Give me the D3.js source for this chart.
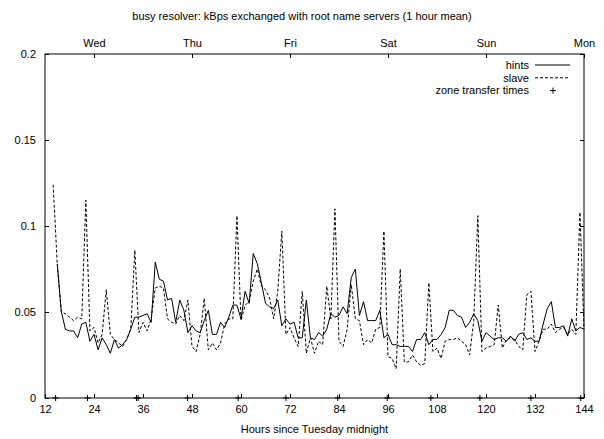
<!DOCTYPE html>
<html>
<head>
<meta charset="utf-8">
<script src="https://cdn.jsdelivr.net/npm/d3@7"></script>
<style>
  body { margin: 0; background: #fff; }
  svg { display: block; font-family: "Liberation Sans", Arial, sans-serif; }
</style>
</head>
<body>
<div id="chart"></div>
<script>
// chart data (hourly means, kBps)
const title = "busy resolver: kBps exchanged with root name servers (1 hour mean)";
const xLabel = "Hours since Tuesday midnight";
const hourTicks = [12, 24, 36, 48, 60, 72, 84, 96, 108, 120, 132, 144];
const dayHours = [24, 48, 72, 96, 120, 144];
const dayLabels = ["Wed", "Thu", "Fri", "Sat", "Sun", "Mon"];
const yTicks = [0, 0.05, 0.1, 0.15, 0.2];

const slaveStart = 14;
const slave = [
  0.124, 0.078, 0.050, 0.049, 0.047, 0.045, 0.047, 0.046, 0.115, 0.039,
  0.041, 0.032, 0.037, 0.063, 0.037, 0.034, 0.032, 0.030, 0.034, 0.040,
  0.086, 0.038, 0.044, 0.039, 0.046, 0.064, 0.065, 0.064, 0.046, 0.044,
  0.043, 0.048, 0.045, 0.057, 0.030, 0.027, 0.037, 0.058, 0.028, 0.032,
  0.028, 0.032, 0.043, 0.046, 0.046, 0.106, 0.045, 0.054, 0.056, 0.068,
  0.075, 0.065, 0.063, 0.058, 0.046, 0.062, 0.097, 0.037, 0.041, 0.035,
  0.030, 0.062, 0.026, 0.035, 0.026, 0.033, 0.031, 0.065, 0.046, 0.110,
  0.033, 0.030, 0.040, 0.066, 0.046, 0.045, 0.031, 0.034, 0.032, 0.040,
  0.041, 0.097, 0.024, 0.023, 0.017, 0.075, 0.021, 0.021, 0.025, 0.021,
  0.019, 0.020, 0.067, 0.027, 0.029, 0.023, 0.033, 0.034, 0.034, 0.035,
  0.033, 0.031, 0.025, 0.045, 0.106, 0.027, 0.029, 0.030, 0.031, 0.054,
  0.029, 0.034, 0.035, 0.034, 0.030, 0.028, 0.060, 0.062, 0.027, 0.033,
  0.040, 0.040, 0.043, 0.038, 0.040, 0.041, 0.037, 0.040, 0.037, 0.108,
  0.040
];

const hintsStart = 15;
const hints = [
  0.078, 0.050, 0.040, 0.039, 0.039, 0.035, 0.043, 0.044, 0.033, 0.037,
  0.028, 0.035, 0.031, 0.026, 0.034, 0.029, 0.031, 0.034, 0.040, 0.047,
  0.047, 0.048, 0.049, 0.044, 0.079, 0.069, 0.068, 0.057, 0.058, 0.044,
  0.057, 0.051, 0.038, 0.042, 0.039, 0.038, 0.045, 0.051, 0.037, 0.037,
  0.044, 0.041, 0.047, 0.054, 0.054, 0.046, 0.062, 0.055, 0.084, 0.078,
  0.067, 0.055, 0.053, 0.052, 0.057, 0.042, 0.046, 0.043, 0.044, 0.035,
  0.035, 0.057, 0.035, 0.034, 0.038, 0.036, 0.040, 0.049, 0.047, 0.048,
  0.053, 0.049, 0.070, 0.075, 0.048, 0.056, 0.045, 0.045, 0.045, 0.051,
  0.035, 0.037, 0.031, 0.031, 0.030, 0.030, 0.030, 0.027, 0.034, 0.034,
  0.038, 0.031, 0.034, 0.034, 0.037, 0.041, 0.051, 0.051, 0.048, 0.047,
  0.041, 0.044, 0.049, 0.045, 0.033, 0.038, 0.036, 0.034, 0.035, 0.035,
  0.033, 0.036, 0.033, 0.037, 0.038, 0.034, 0.035, 0.033, 0.033, 0.043,
  0.052, 0.056, 0.041, 0.041, 0.042, 0.036, 0.046, 0.039, 0.041, 0.040
];

// hours at which zone transfers happened (drawn on the x axis)
const zoneTransfers = [14.6, 22.4, 34.4, 34.8, 46.9, 59.3, 71, 83.7, 95.8, 106.5, 118.5, 131, 143.2];

function drawChart() {
  let W = 604, H = 439;
  let margin = { top: 54, right: 20, bottom: 41, left: 45 },
    width = W - margin.left - margin.right,
    height = H - margin.top - margin.bottom;

  let svg = d3.select("#chart")
    .append("svg")
    .attr("width", W)
    .attr("height", H);

  let g = svg.append("g")
    .attr("transform", "translate(" + margin.left + "," + margin.top + ")");

  let x = d3.scaleLinear().domain([12, 144]).range([0, width]);
  let y = d3.scaleLinear().domain([0, 0.2]).range([height, 0]);

  // axes, gnuplot style: small ticks pointing inward
  let bottom = g.append("g")
    .attr("transform", "translate(0," + height + ")")
    .call(d3.axisBottom(x).tickValues(hourTicks).tickSize(-4).tickPadding(7));
  let top = g.append("g")
    .call(d3.axisTop(x).tickValues(dayHours).tickSize(-4).tickPadding(7)
      .tickFormat((d, i) => dayLabels[i]));
  let left = g.append("g")
    .call(d3.axisLeft(y).tickValues(yTicks).tickSize(-4).tickPadding(9)
      .tickFormat(d3.format("~g")));
  let right = g.append("g")
    .attr("transform", "translate(" + width + ",0)")
    .call(d3.axisRight(y).tickValues(yTicks).tickSize(-4).tickFormat(""));

  [bottom, top, left, right].forEach(a => {
    a.select(".domain").remove();
    a.selectAll("line").attr("stroke", "#000");
    a.selectAll("text").attr("fill", "#000").style("font-size", "11px");
  });

  // frame
  g.append("rect")
    .attr("width", width)
    .attr("height", height)
    .attr("fill", "none")
    .attr("stroke", "#000")
    .attr("stroke-width", 1);

  let line = d3.line()
    .x(d => x(d.h))
    .y(d => y(d.v));

  let slaveData = slave.map((v, i) => ({ h: slaveStart + i, v }));
  let hintsData = hints.map((v, i) => ({ h: hintsStart + i, v }));

  g.append("path")
    .datum(slaveData)
    .attr("fill", "none")
    .attr("stroke", "#000")
    .attr("stroke-width", 1)
    .attr("stroke-dasharray", "3,2")
    .attr("d", line);

  g.append("path")
    .datum(hintsData)
    .attr("fill", "none")
    .attr("stroke", "#000")
    .attr("stroke-width", 1)
    .attr("d", line);

  // zone transfer markers
  let plus = "M-3,0H3M0,-3V3";
  g.selectAll(".zt")
    .data(zoneTransfers)
    .enter()
    .append("path")
    .attr("class", "zt")
    .attr("transform", d => "translate(" + x(d) + "," + y(0) + ")")
    .attr("d", plus)
    .attr("stroke", "#000")
    .attr("stroke-width", 1);

  // title and x label
  svg.append("text")
    .attr("x", W / 2)
    .attr("y", 20)
    .attr("text-anchor", "middle")
    .style("font-size", "11px")
    .text(title);

  svg.append("text")
    .attr("x", margin.left + width / 2)
    .attr("y", 433)
    .attr("text-anchor", "middle")
    .style("font-size", "11px")
    .text(xLabel);

  // legend
  let legend = [
    { name: "hints", dash: null },
    { name: "slave", dash: "3,2" },
    { name: "zone transfer times", mark: true }
  ];
  let lg = svg.append("g").attr("transform", "translate(529,65)");
  legend.forEach((d, i) => {
    let row = lg.append("g").attr("transform", "translate(0," + i * 12.8 + ")");
    row.append("text")
      .attr("text-anchor", "end")
      .attr("dy", "0.35em")
      .style("font-size", "11px")
      .text(d.name);
    if (d.mark) {
      row.append("path")
        .attr("transform", "translate(24,0)")
        .attr("d", plus)
        .attr("stroke", "#000");
    } else {
      row.append("line")
        .attr("x1", 6).attr("x2", 41)
        .attr("stroke", "#000")
        .attr("stroke-dasharray", d.dash);
    }
  });
}

drawChart();
</script>
</body>
</html>
